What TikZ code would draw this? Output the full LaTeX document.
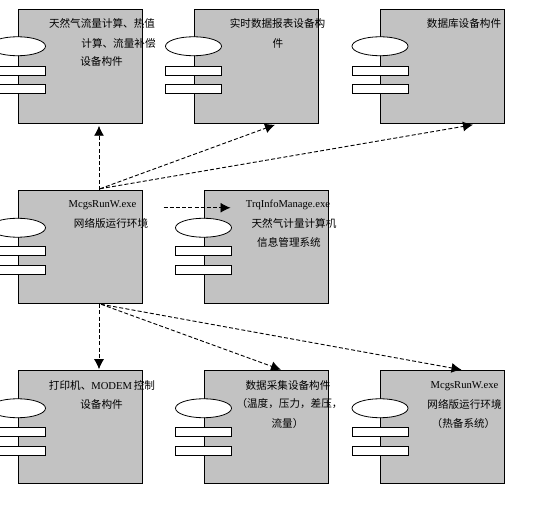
\documentclass[tikz,border=0pt]{standalone}
\usepackage{fontspec}
\setmainfont{Liberation Serif}
\newfontfamily\cjk{Noto Sans CJK SC}
\usetikzlibrary{arrows.meta,positioning,calc,shapes.geometric}

\begin{document}
\begin{tikzpicture}[
  x=1pt, y=-1pt,
  font=\fontsize{10.6}{12}\selectfont,
  arrow/.style={-{Latex[length=10pt,width=10pt]}, line width=0.9pt, draw=black, dash pattern=on 4pt off 2.2pt},
  device/.style={draw=black, fill=black!24, line width=1pt,
    minimum width=124pt, minimum height=113.5pt, inner sep=0pt},
  oval/.style={ellipse, draw=black, fill=white, line width=0.8pt,
    minimum width=56pt, minimum height=19pt, inner sep=0pt},
  bar/.style={draw=black, fill=white, line width=0.8pt,
    minimum width=56pt, minimum height=9pt, inner sep=0pt},
  caption/.style={inner sep=0pt, text=black},
  hanzi/.style={caption, font=\fontsize{10.6}{12}\selectfont\cjk}
]
\useasboundingbox (0,0) rectangle (539,513);

\node[device] (flow) at (80,66.5) {};
\node[oval] (flowoval) at ($(flow.north west)+(0,37)$) {};
\node[bar] (flowbara) at ($(flow.north west)+(0,61.5)$) {};
\node[bar] (flowbarb) at ($(flow.north west)+(0,80)$) {};
\node[hanzi] (flowa) at (102,23) {天然气流量计算、热值};
\node[hanzi] (flowb) at (118.5,43) {计算、流量补偿};
\node[hanzi] (flowc) at (101.5,61.5) {设备构件};

\node[device] (report) at (256,66.5) {};
\node[oval] (reportoval) at ($(report.north west)+(0,37)$) {};
\node[bar] (reportbara) at ($(report.north west)+(0,61.5)$) {};
\node[bar] (reportbarb) at ($(report.north west)+(0,80)$) {};
\node[hanzi] (reporta) at (277.5,23) {实时数据报表设备构};
\node[hanzi] (reportb) at (278,43) {件};

\node[device] (base) at (442.5,66.5) {};
\node[oval] (baseoval) at ($(base.north west)+(0,37)$) {};
\node[bar] (basebara) at ($(base.north west)+(0,61.5)$) {};
\node[bar] (basebarb) at ($(base.north west)+(0,80)$) {};
\node[hanzi] (basea) at (464,23) {数据库设备构件};

\node[device] (mcgs) at (80,247) {};
\node[oval] (mcgsoval) at ($(mcgs.north west)+(0,38)$) {};
\node[bar] (mcgsbara) at ($(mcgs.north west)+(0,61.5)$) {};
\node[bar] (mcgsbarb) at ($(mcgs.north west)+(0,80)$) {};
\node[caption] (mcgsa) at (102.5,205) {McgsRunW.exe};
\node[hanzi] (mcgsb) at (111,223) {网络版运行环境};

\node[device] (trq) at (266,247) {};
\node[oval] (trqoval) at ($(trq.north west)+(0,38)$) {};
\node[bar] (trqbara) at ($(trq.north west)+(0,61.5)$) {};
\node[bar] (trqbarb) at ($(trq.north west)+(0,80)$) {};
\node[caption] (trqa) at (288,205) {TrqInfoManage.exe};
\node[hanzi] (trqb) at (294,223) {天然气计量计算机};
\node[hanzi] (trqc) at (289,242) {信息管理系统};

\node[device] (printer) at (80,427) {};
\node[oval] (printeroval) at ($(printer.north west)+(0,38.5)$) {};
\node[bar] (printerbara) at ($(printer.north west)+(0,62)$) {};
\node[bar] (printerbarb) at ($(printer.north west)+(0,81)$) {};
\node[caption] (printera) at (102,385) {{\cjk 打印机、}MODEM\,{\cjk 控制}};
\node[hanzi] (printerb) at (101.5,404) {设备构件};

\node[device] (collect) at (266,427) {};
\node[oval] (collectoval) at ($(collect.north west)+(0,38.5)$) {};
\node[bar] (collectbara) at ($(collect.north west)+(0,62)$) {};
\node[bar] (collectbarb) at ($(collect.north west)+(0,81)$) {};
\node[hanzi] (collecta) at (288,385) {数据采集设备构件};
\node[hanzi] (collectb) at (289.5,404) {（温度，压力，差压，};
\node[hanzi] (collectc) at (287.5,423) {流量）};

\node[device] (backup) at (442.5,427) {};
\node[oval] (backupoval) at ($(backup.north west)+(0,38.5)$) {};
\node[bar] (backupbara) at ($(backup.north west)+(0,62)$) {};
\node[bar] (backupbarb) at ($(backup.north west)+(0,81)$) {};
\node[caption] (backupa) at (464.5,386) {McgsRunW.exe};
\node[hanzi] (backupb) at (464.5,404) {网络版运行环境};
\node[hanzi] (backupc) at (463.5,423) {（热备系统）};

\coordinate (trqstart) at ($(trq.north west)+(-40,18)$);

\draw[arrow] ($(mcgs.north)+(19,0)$) -- ($(flow.south)+(19,2)$);
\draw[arrow] ($(mcgs.north)+(20,-1)$) -- ($(report.south)+(19,1)$);
\draw[arrow] ($(mcgs.north)+(20,-1)$) -- ($(base.south)+(30.5,1)$);
\draw[arrow] (trqstart) -- ($(trq.north west)+(27,18)$);
\draw[arrow] ($(mcgs.south)+(19,0)$) -- ($(printer.north)+(19,-0.5)$);
\draw[arrow] ($(mcgs.south)+(21,0)$) -- ($(collect.north)+(15,0)$);
\draw[arrow] ($(mcgs.south)+(21,0)$) -- ($(backup.north)+(19,0)$);

\end{tikzpicture}
\end{document}
